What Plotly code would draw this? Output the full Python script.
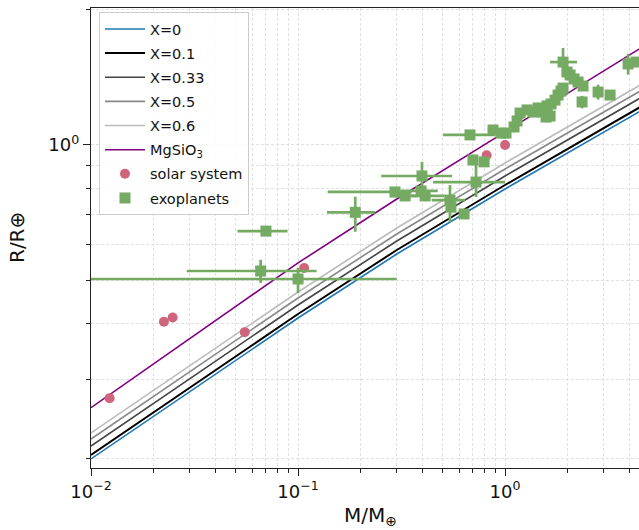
import plotly.graph_objects as go

# ---- model mass-radius curves ----
curve_mass = [0.01, 0.1, 0.3, 1.0, 4.5]
r_x0 = [0.1999, 0.4117, 0.5717, 0.798, 1.190]
r_x01 = [0.2040, 0.4203, 0.5836, 0.8145, 1.2151]
r_x033 = [0.2136, 0.4401, 0.6113, 0.8530, 1.2726]
r_x05 = [0.2214, 0.4562, 0.6336, 0.8843, 1.3192]
r_x06 = [0.2284, 0.4705, 0.6533, 0.9118, 1.3604]
r_mgsio3 = [0.2600, 0.5461, 0.7582, 1.0705, 1.6420]

# ---- solar system bodies (Moon, Titan, Ganymede, Mercury, Mars, Venus, Earth) ----
ss_mass = [0.0123, 0.0225, 0.0248, 0.0553, 0.107, 0.815, 1.0]
ss_radius = [0.273, 0.404, 0.413, 0.383, 0.532, 0.949, 1.0]

# ---- exoplanets ----
exo_mass = [0.070, 0.066, 0.100, 0.189, 0.397, 0.294, 0.329, 0.393, 0.411, 0.542,
            0.548, 0.634, 0.677, 0.700, 0.792, 0.724, 0.875, 0.956, 1.011, 1.105,
            1.143, 1.182, 1.277, 1.365, 1.444, 1.526, 1.595, 1.668, 1.744, 1.803,
            1.864, 1.906, 1.578, 1.906, 1.993, 2.061, 2.154, 2.252, 2.381, 2.355,
            2.814, 3.216, 3.93, 4.29, 1.65]
exo_radius = [0.643, 0.524, 0.503, 0.708, 0.853, 0.786, 0.770, 0.790, 0.770, 0.754,
              0.727, 0.702, 1.053, 0.926, 0.917, 0.827, 1.080, 1.063, 1.063, 1.097,
              1.131, 1.178, 1.197, 1.184, 1.209, 1.184, 1.222, 1.234, 1.259, 1.292,
              1.319, 1.339, 1.154, 1.530, 1.454, 1.432, 1.403, 1.381, 1.353, 1.247,
              1.312, 1.292, 1.515, 1.530, 1.16]
exo_mass_err_lo = [0.019, 0.037, 0.0999, 0.051, 0.145, 0.155, 0.05, 0.08, 0.10, 0.10,
                   0.02, 0.03, 0.175, 0.03, 0.04, 0.275, 0.05, 0.10, 0.05, 0.05,
                   0.05, 0.05, 0.06, 0.06, 0.06, 0.06, 0.07, 0.07, 0.07, 0.08,
                   0.08, 0.10, 0.06, 0.256, 0.08, 0.08, 0.08, 0.08, 0.10, 0.08,
                   0.10, 0.15, 0.10, 0.20, 0.07]
exo_mass_err_hi = [0.019, 0.057, 0.200, 0.047, 0.158, 0.060, 0.05, 0.08, 0.10, 0.10,
                   0.02, 0.03, 0.218, 0.03, 0.04, 0.276, 0.05, 0.10, 0.05, 0.05,
                   0.05, 0.05, 0.06, 0.06, 0.06, 0.06, 0.07, 0.07, 0.07, 0.08,
                   0.08, 0.10, 0.06, 0.320, 0.08, 0.08, 0.08, 0.08, 0.10, 0.08,
                   0.10, 0.15, 0.10, 0.20, 0.07]
exo_radius_err_lo = [0.010, 0.031, 0.035, 0.067, 0.047, 0.010, 0.010, 0.020, 0.020, 0.080,
                     0.010, 0.015, 0.015, 0.015, 0.015, 0.061, 0.020, 0.020, 0.020, 0.030,
                     0.050, 0.030, 0.030, 0.030, 0.030, 0.030, 0.030, 0.030, 0.030, 0.030,
                     0.030, 0.030, 0.030, 0.113, 0.030, 0.030, 0.030, 0.030, 0.030, 0.040,
                     0.050, 0.030, 0.080, 0.030, 0.030]
exo_radius_err_hi = [0.010, 0.031, 0.030, 0.059, 0.064, 0.010, 0.010, 0.020, 0.020, 0.060,
                     0.010, 0.015, 0.015, 0.015, 0.015, 0.085, 0.020, 0.020, 0.020, 0.030,
                     0.050, 0.030, 0.030, 0.030, 0.030, 0.030, 0.030, 0.030, 0.030, 0.030,
                     0.030, 0.030, 0.030, 0.114, 0.030, 0.030, 0.030, 0.030, 0.030, 0.040,
                     0.050, 0.030, 0.080, 0.030, 0.030]

# ---- tick labels ----
x_major = [0.01, 0.1, 1]
x_major_text = ["10<sup>\u22122</sup>", "10<sup>\u22121</sup>", "10<sup>0</sup>"]
y_major = [1]
y_major_text = ["10<sup>0</sup>"]

GREEN = "#74AA62"
PINK = "#CF657A"
FONT = "DejaVu Sans"

fig = go.Figure()

line_specs = [
    ("X=0", r_x0, "#1f77b4", 1.6),
    ("X=0.1", r_x01, "#000000", 2.0),
    ("X=0.33", r_x033, "#444444", 1.6),
    ("X=0.5", r_x05, "#888888", 1.6),
    ("X=0.6", r_x06, "#bbbbbb", 1.6),
    ("MgSiO<sub>3</sub>", r_mgsio3, "#800080", 1.6),
]
for i, (name, rr, col, w) in enumerate(line_specs):
    fig.add_trace(go.Scatter(x=curve_mass, y=rr, mode="lines", name=name,
                             line=dict(color=col, width=w), legendgroup=f"g{i}"))

fig.add_trace(go.Scatter(x=ss_mass, y=ss_radius, mode="markers", name="solar system",
                         marker=dict(color=PINK, size=10, line=dict(width=0)),
                         legendgroup="g6"))

fig.add_trace(go.Scatter(
    x=exo_mass, y=exo_radius, mode="markers", name="exoplanets",
    marker=dict(color=GREEN, size=11, symbol="square", line=dict(width=0)),
    error_x=dict(type="data", symmetric=False, array=exo_mass_err_hi,
                 arrayminus=exo_mass_err_lo, color=GREEN, thickness=2.7, width=0),
    error_y=dict(type="data", symmetric=False, array=exo_radius_err_hi,
                 arrayminus=exo_radius_err_lo, color=GREEN, thickness=2.7, width=0),
    legendgroup="g7"))

x_minor = [k * d for d in (0.01, 0.1, 1) for k in range(2, 10)]
y_minor = [0.2, 0.3, 0.4, 0.5, 0.6, 0.7, 0.8, 0.9, 2.0]

grid = dict(gridcolor="#e0e0e0", gridwidth=0.8, griddash="3px,2px")

fig.update_layout(
    width=639, height=530, autosize=False,
    margin=dict(l=91, r=0, t=8, b=62),
    paper_bgcolor="white", plot_bgcolor="white",
    font=dict(family=FONT, size=18, color="#111"),
    showlegend=True,
    legend=dict(x=0.0146, y=0.9913, xanchor="left", yanchor="top",
                bgcolor="rgba(255,255,255,0.85)", bordercolor="#cccccc", borderwidth=1,
                font=dict(family=FONT, size=14.5, color="#111"),
                tracegroupgap=2.3, itemwidth=40, traceorder="grouped"),
    xaxis=dict(type="log", range=[-2, 0.647], showline=True, linecolor="#222", linewidth=1.3,
               mirror=True, ticks="outside", ticklen=7, tickwidth=1.2, tickcolor="#222",
               tickvals=x_major, ticktext=x_major_text, showgrid=True, zeroline=False,
               tickfont=dict(family=FONT, size=18, color="#111"),
               minor=dict(tickvals=x_minor, ticks="outside", ticklen=4, tickcolor="#222",
                          showgrid=True, **grid),
               **grid),
    yaxis=dict(type="log", range=[-0.7194, 0.3051], showline=True, linecolor="#222",
               linewidth=1.3, mirror=False, ticks="outside", ticklen=7, tickwidth=1.2,
               tickcolor="#222", tickvals=y_major, ticktext=y_major_text, showgrid=True,
               zeroline=False, tickfont=dict(family=FONT, size=18, color="#111"),
               minor=dict(tickvals=y_minor, ticks="outside", ticklen=4, tickcolor="#222",
                          showgrid=True, **grid),
               **grid),
    annotations=[
        dict(text="M/M<sub>\u2295</sub>", xref="paper", yref="paper", x=0.51, y=-0.105,
             xanchor="center", yanchor="middle", showarrow=False,
             font=dict(family=FONT, size=20, color="#111")),
        dict(text="R/R\u2295", xref="paper", yref="paper", x=-0.135, y=0.5,
             xanchor="center", yanchor="middle", showarrow=False, textangle=-90,
             font=dict(family=FONT, size=20, color="#111")),
    ],
)

fig.write_html("out.html", config={"displayModeBar": False},
               post_script="document.body.style.margin='0px';document.body.style.overflow='hidden';")
